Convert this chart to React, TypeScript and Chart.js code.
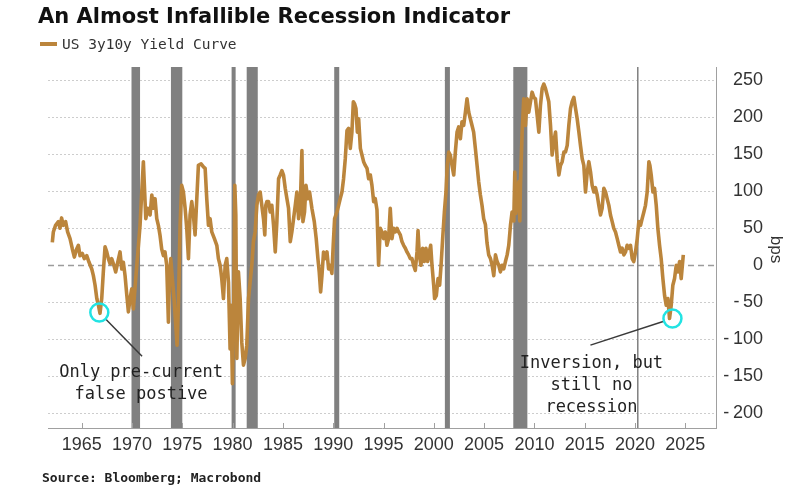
import React, { useEffect, useRef } from 'react';
import { Chart, registerables } from 'chart.js';

Chart.register(...registerables);

// ---- Data (decimal years / basis points) ----
const dates: number[] = [
  1962.08, 1962.18, 1962.4, 1962.68, 1962.84, 1963.0, 1963.17, 1963.4, 1963.6, 1963.84,
  1964.07, 1964.27, 1964.5, 1964.67, 1964.83, 1965.06, 1965.26, 1965.5, 1965.73, 1966.0,
  1966.16, 1966.33, 1966.5, 1966.66, 1966.82, 1966.99, 1967.15, 1967.32, 1967.49, 1967.65,
  1967.82, 1967.98, 1968.2, 1968.38, 1968.58, 1968.81, 1968.98, 1969.14, 1969.31, 1969.48,
  1969.64, 1969.81, 1969.97, 1970.14, 1970.37, 1970.64, 1970.8, 1970.97, 1971.13, 1971.23,
  1971.37, 1971.57, 1971.8, 1971.97, 1972.13, 1972.29, 1972.46, 1972.62, 1972.79, 1972.95,
  1973.12, 1973.28, 1973.45, 1973.62, 1973.72, 1973.85, 1974.01, 1974.18, 1974.35, 1974.48,
  1974.61, 1974.78, 1974.94, 1975.11, 1975.28, 1975.44, 1975.61, 1975.77, 1975.94, 1976.1,
  1976.27, 1976.44, 1976.6, 1976.87, 1977.1, 1977.27, 1977.43, 1977.6, 1977.76, 1977.93,
  1978.19, 1978.43, 1978.59, 1978.76, 1978.92, 1979.09, 1979.26, 1979.42, 1979.59, 1979.75,
  1979.85, 1979.98, 1980.12, 1980.22, 1980.32, 1980.42, 1980.58, 1980.75, 1980.91, 1981.08,
  1981.25, 1981.41, 1981.58, 1981.74, 1981.91, 1982.07, 1982.24, 1982.41, 1982.57, 1982.74,
  1982.9, 1983.07, 1983.2, 1983.3, 1983.41, 1983.57, 1983.74, 1983.9, 1984.07, 1984.24,
  1984.4, 1984.57, 1984.73, 1984.9, 1985.06, 1985.23, 1985.4, 1985.56, 1985.73, 1985.89,
  1986.06, 1986.23, 1986.39, 1986.56, 1986.72, 1986.89, 1986.99, 1987.15, 1987.29, 1987.49,
  1987.65, 1987.88, 1988.12, 1988.31, 1988.48, 1988.61, 1988.75, 1988.88, 1989.04, 1989.21,
  1989.38, 1989.54, 1989.71, 1989.87, 1990.0, 1990.14, 1990.37, 1990.54, 1990.7, 1990.87,
  1991.03, 1991.2, 1991.37, 1991.53, 1991.7, 1991.86, 1992.0, 1992.13, 1992.26, 1992.4,
  1992.53, 1992.7, 1992.86, 1993.02, 1993.19, 1993.36, 1993.52, 1993.69, 1993.85, 1994.02,
  1994.18, 1994.35, 1994.51, 1994.68, 1994.84, 1995.01, 1995.18, 1995.34, 1995.51, 1995.67,
  1995.84, 1996.0, 1996.17, 1996.34, 1996.5, 1996.67, 1996.83, 1997.0, 1997.17, 1997.33,
  1997.5, 1997.66, 1997.83, 1997.99, 1998.16, 1998.33, 1998.43, 1998.56, 1998.72, 1998.89,
  1999.06, 1999.22, 1999.39, 1999.55, 1999.69, 1999.82, 1999.99, 2000.08, 2000.25, 2000.42,
  2000.58, 2000.72, 2000.88, 2001.05, 2001.21, 2001.34, 2001.48, 2001.64, 2001.81, 2001.98,
  2002.14, 2002.31, 2002.47, 2002.64, 2002.8, 2002.97, 2003.14, 2003.3, 2003.47, 2003.63,
  2003.8, 2003.96, 2004.13, 2004.3, 2004.46, 2004.63, 2004.79, 2004.96, 2005.13, 2005.29,
  2005.46, 2005.63, 2005.8, 2005.96, 2006.13, 2006.29, 2006.46, 2006.62, 2006.79, 2006.95,
  2007.12, 2007.29, 2007.45, 2007.62, 2007.78, 2007.95, 2008.05, 2008.15, 2008.28, 2008.45,
  2008.55, 2008.61, 2008.78, 2008.94, 2009.11, 2009.28, 2009.44, 2009.61, 2009.77, 2009.94,
  2010.1, 2010.27, 2010.44, 2010.6, 2010.77, 2010.93, 2011.1, 2011.27, 2011.43, 2011.6,
  2011.76, 2011.93, 2012.1, 2012.26, 2012.43, 2012.59, 2012.76, 2012.93, 2013.09, 2013.26,
  2013.42, 2013.59, 2013.75, 2013.92, 2014.09, 2014.25, 2014.42, 2014.58, 2014.75, 2014.91,
  2015.08, 2015.25, 2015.41, 2015.58, 2015.74, 2015.91, 2016.07, 2016.24, 2016.4, 2016.57,
  2016.73, 2016.9, 2017.07, 2017.23, 2017.4, 2017.56, 2017.73, 2017.89, 2018.06, 2018.23,
  2018.39, 2018.56, 2018.72, 2018.89, 2019.06, 2019.22, 2019.39, 2019.55, 2019.72, 2019.88,
  2020.05, 2020.22, 2020.38, 2020.55, 2020.71, 2020.88, 2021.04, 2021.21, 2021.38, 2021.48,
  2021.61, 2021.78, 2021.94, 2022.11, 2022.27, 2022.44, 2022.6, 2022.77, 2022.94, 2023.1,
  2023.27, 2023.43, 2023.6, 2023.76, 2023.93, 2024.1, 2024.26, 2024.43, 2024.59, 2024.8,
];

const spreadBps: number[] = [
  31, 45, 54, 59, 50, 64, 54, 59, 45, 36,
  22, 11, 22, 27, 13, 16, 9, 13, 4, -5,
  -14, -27, -45, -54, -65, -45, -9, 25, 18, 9,
  2, 9, 0, -9, 4, 18, -5, 4, -14, -40,
  -63, -45, -32, -59, -18, 27, 54, 99, 140, 108,
  63, 77, 68, 95, 77, 90, 63, 54, 40, 22,
  13, 18, 0, -77, -23, 9, -18, -45, -81, -108,
  -54, 54, 108, 99, 77, 50, 9, 68, 86, 68,
  41, 90, 135, 137, 133, 131, 90, 54, 63, 45,
  36, 27, 9, 0, -18, -45, 0, 9, -23, -113,
  -54, -160, -45, 108, 68, -126, -9, -45, -104, -135,
  -126, -108, -45, -23, 0, 32, 45, 81, 95, 99,
  81, 63, 41, 81, 86, 86, 72, 81, 54, 18,
  59, 117, 122, 128, 122, 104, 90, 77, 32, 45,
  63, 81, 99, 63, 77, 155, 59, 72, 108, 90,
  99, 77, 59, 36, 9, -9, -36, -14, 18, 9,
  18, -5, 0, -11, 27, 63, 72, 81, 90, 99,
  117, 144, 182, 185, 158, 180, 221, 218, 212, 180,
  198, 158, 149, 140, 135, 131, 117, 122, 108, 86,
  90, 75, 0, 50, 45, 36, 45, 27, 36, 77,
  36, 50, 45, 50, 45, 41, 32, 27, 23, 18,
  14, 9, 9, 0, -7, 18, 47, 14, 0, 23,
  5, 23, 5, 18, 27, 0, -27, -45, -41, -18,
  -27, 0, 36, 72, 99, 135, 153, 149, 135, 122,
  153, 180, 187, 171, 194, 189, 207, 225, 207, 198,
  189, 180, 158, 135, 113, 95, 81, 63, 55, 30,
  14, 9, 0, -14, 14, 5, 0, -9, 0, -5,
  5, 14, 27, 54, 72, 60, 126, 70, 90, 113,
  60, 108, 180, 225, 189, 225, 207, 221, 234, 227,
  225, 203, 180, 216, 239, 245, 239, 230, 221, 189,
  149, 167, 180, 144, 122, 135, 140, 153, 153, 162,
  189, 212, 221, 227, 212, 198, 180, 162, 144, 135,
  99, 126, 140, 126, 108, 99, 105, 95, 81, 68,
  77, 104, 99, 90, 81, 68, 59, 50, 45, 36,
  27, 18, 23, 14, 18, 27, 23, 27, 9, 5,
  18, 36, 59, 54, 63, 72, 81, 99, 140, 135,
  122, 99, 104, 81, 50, 27, 9, -18, -41, -54,
  -45, -72, -54, -27, -18, 0, -9, 5, -18, 14,
];

// Recessions (decimal years, start / end)
const recessionStart: number[] = [1969.95, 1973.87, 1979.9, 1981.4, 1990.1, 2001.1, 2007.9, 2020.2];
const recessionEnd: number[] = [1970.8, 1975.0, 1980.3, 1982.5, 1990.6, 2001.6, 2009.3, 2020.35];

const xTickValues: number[] = [1965, 1970, 1975, 1980, 1985, 1990, 1995, 2000, 2005, 2010, 2015, 2020, 2025];
const yTickValues: number[] = [-200, -150, -100, -50, 0, 50, 100, 150, 200, 250];

// Annotations (data coordinates)
const markerX: number[] = [1966.75, 2023.72];
const markerY: number[] = [-64, -72];
const leaderEndX: number[] = [1971.0, 2015.57];
const leaderEndY: number[] = [-123, -108];
const noteX: number[] = [1970.9, 2015.67];
const noteY: number[] = [-144.6, -132.4];
const noteLines: string[][] = [
  ['Only pre-current', 'false postive'],
  ['Inversion, but', 'still no', 'recession'],
];

const TITLE = 'An Almost Infallible Recession Indicator';
const SERIES_NAME = 'US 3y10y Yield Curve';
const SOURCE = 'Source: Bloomberg; Macrobond';
const Y_UNIT = 'bps';

const LINE_COLOR = '#bb853c';
const AXIS_FONT = "'Liberation Sans', Arial, sans-serif";
const MONO_FONT = "'DejaVu Sans Mono', monospace";

const overlayPlugin = {
  id: 'overlay',
  beforeDatasetsDraw(chart: any) {
    const { ctx, chartArea: a, scales } = chart;
    const xs = scales.x;
    const ys = scales.y;
    ctx.save();
    // horizontal grid lines
    for (const v of yTickValues) {
      const py = Math.round(ys.getPixelForValue(v)) + 0.5;
      ctx.beginPath();
      if (v === 0) {
        ctx.strokeStyle = '#9c9c9c';
        ctx.lineWidth = 1.5;
        ctx.setLineDash([6, 4]);
      } else {
        ctx.strokeStyle = '#cdcdcd';
        ctx.lineWidth = 1;
        ctx.setLineDash([2, 2]);
      }
      ctx.moveTo(a.left, py);
      ctx.lineTo(a.right, py);
      ctx.stroke();
    }
    ctx.setLineDash([]);
    // recession bars
    ctx.fillStyle = '#808080';
    recessionStart.forEach((s, i) => {
      const x0 = xs.getPixelForValue(s);
      const x1 = xs.getPixelForValue(recessionEnd[i]);
      ctx.fillRect(x0, a.top, x1 - x0, a.bottom - a.top);
    });
    // x ticks (inside)
    ctx.strokeStyle = '#a0a0a0';
    ctx.lineWidth = 1;
    for (const v of xTickValues) {
      const px = Math.round(xs.getPixelForValue(v)) + 0.5;
      ctx.beginPath();
      ctx.moveTo(px, a.bottom - 5);
      ctx.lineTo(px, a.bottom);
      ctx.stroke();
    }
    ctx.restore();
  },
  afterDatasetsDraw(chart: any) {
    const { ctx, scales } = chart;
    const xs = scales.x;
    const ys = scales.y;
    ctx.save();
    const r = 9;
    markerX.forEach((mx, i) => {
      const cx = xs.getPixelForValue(mx);
      const cy = ys.getPixelForValue(markerY[i]);
      const ex = xs.getPixelForValue(leaderEndX[i]);
      const ey = ys.getPixelForValue(leaderEndY[i]);
      const d = Math.hypot(ex - cx, ey - cy);
      ctx.strokeStyle = '#3a3a3a';
      ctx.lineWidth = 1.5;
      ctx.beginPath();
      ctx.moveTo(cx + ((ex - cx) / d) * r, cy + ((ey - cy) / d) * r);
      ctx.lineTo(ex, ey);
      ctx.stroke();
      ctx.strokeStyle = '#22e3e3';
      ctx.lineWidth = 2.5;
      ctx.beginPath();
      ctx.arc(cx, cy, r, 0, Math.PI * 2);
      ctx.stroke();
      // note text
      ctx.fillStyle = '#222222';
      ctx.font = `17px ${MONO_FONT}`;
      ctx.textAlign = 'center';
      ctx.textBaseline = 'middle';
      const tx = xs.getPixelForValue(noteX[i]);
      const ty = ys.getPixelForValue(noteY[i]);
      noteLines[i].forEach((line, j) => {
        ctx.fillText(line, tx, ty + j * 22);
      });
    });
    ctx.restore();
  },
  afterDraw(chart: any) {
    const { ctx, chartArea: a } = chart;
    ctx.save();
    ctx.translate(776, (a.top + a.bottom) / 2 + 2);
    ctx.rotate(Math.PI / 2);
    ctx.fillStyle = '#333333';
    ctx.font = `17px ${AXIS_FONT}`;
    ctx.textAlign = 'center';
    ctx.textBaseline = 'middle';
    ctx.fillText(Y_UNIT, 0, 0);
    ctx.restore();
  },
};

const formatY = (v: number) => (v < 0 ? '-\u2009' + String(Math.abs(v)) : String(v));

export default function App() {
  const canvasRef = useRef<HTMLCanvasElement | null>(null);

  useEffect(() => {
    const canvas = canvasRef.current;
    if (!canvas) return;
    const points = dates.map((d, i) => ({ x: d, y: spreadBps[i] }));
    const chart = new Chart(canvas, {
      type: 'line',
      data: {
        datasets: [
          {
            label: SERIES_NAME,
            data: points,
            borderColor: LINE_COLOR,
            backgroundColor: LINE_COLOR,
            borderWidth: 3.6,
            pointRadius: 0,
            tension: 0,
            borderJoinStyle: 'round',
          },
        ],
      },
      options: {
        animation: false,
        responsive: false,
        maintainAspectRatio: false,
        layout: { padding: { top: 67, left: 48, right: 27, bottom: 0 } },
        plugins: {
          legend: { display: false },
          title: { display: false },
          tooltip: { enabled: false },
        },
        scales: {
          x: {
            type: 'linear',
            min: 1961.65,
            max: 2028.05,
            afterBuildTicks: (s: any) => {
              s.ticks = xTickValues.map((v) => ({ value: v }));
            },
            afterFit: (s: any) => {
              s.height = 67;
            },
            grid: { display: false, drawTicks: false },
            border: { display: true, color: '#a0a0a0', width: 1 },
            ticks: {
              font: { family: AXIS_FONT, size: 18 },
              color: '#333333',
              padding: 6,
              maxRotation: 0,
              autoSkip: false,
              callback: (v: any) => String(v),
            },
          },
          y: {
            type: 'linear',
            position: 'right',
            min: -220,
            max: 268,
            afterBuildTicks: (s: any) => {
              s.ticks = yTickValues.map((v) => ({ value: v }));
            },
            afterFit: (s: any) => {
              s.width = 47;
            },
            grid: { display: false, drawTicks: false },
            border: { display: true, color: '#a0a0a0', width: 1 },
            ticks: {
              font: { family: AXIS_FONT, size: 18 },
              color: '#333333',
              padding: 7,
              crossAlign: 'far',
              callback: (v: any) => formatY(Number(v)),
            },
            title: { display: false },
          },
        },
      },
      plugins: [overlayPlugin],
    } as any);
    return () => chart.destroy();
  }, []);

  return (
    <div
      style={{
        position: 'absolute',
        left: 0,
        top: 0,
        width: 790,
        height: 495,
        background: '#ffffff',
        overflow: 'hidden',
      }}
    >
      <canvas
        ref={canvasRef}
        width={790}
        height={495}
        style={{ position: 'absolute', left: 0, top: 0, width: 790, height: 495, display: 'block' }}
      />
      <div
        style={{
          position: 'absolute',
          left: 38,
          top: 3,
          font: "bold 21px 'DejaVu Sans', sans-serif",
          lineHeight: '26px',
          color: '#111111',
          whiteSpace: 'nowrap',
        }}
      >
        {TITLE}
      </div>
      <div
        style={{
          position: 'absolute',
          left: 40,
          top: 35,
          height: 18,
          display: 'flex',
          alignItems: 'center',
          whiteSpace: 'nowrap',
        }}
      >
        <span style={{ display: 'inline-block', width: 17, height: 4, background: LINE_COLOR, marginRight: 5 }} />
        <span style={{ font: `14.5px ${MONO_FONT}`, color: '#333333', lineHeight: '18px' }}>{SERIES_NAME}</span>
      </div>
      <div
        style={{
          position: 'absolute',
          left: 42,
          top: 470,
          font: `bold 13px ${MONO_FONT}`,
          lineHeight: '16px',
          color: '#222222',
          whiteSpace: 'nowrap',
        }}
      >
        {SOURCE}
      </div>
    </div>
  );
}
